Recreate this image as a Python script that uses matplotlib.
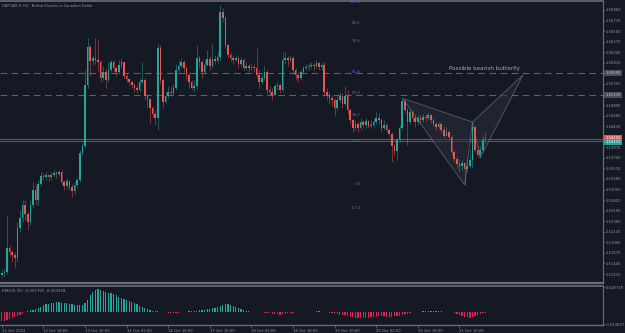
import numpy as np
import matplotlib
matplotlib.use("Agg")
import matplotlib.pyplot as plt
from matplotlib.patches import Rectangle, Polygon

BG = "#151924"
GRID_TXT = "#9598a1"
UP = "#26a69a"
DOWN = "#ef5350"

# ---- price data (H1 candles, open = previous close) ----
first_open = 1.5119
closes = [1.5123, 1.5125, 1.5178, 1.5169, 1.5162, 1.5156, 1.5221, 1.5243, 1.5271, 1.5252,
          1.5234, 1.5271, 1.5304, 1.5282, 1.5317, 1.5335, 1.5332, 1.5337, 1.5332, 1.5337,
          1.5341, 1.5339, 1.5343, 1.5321, 1.5313, 1.5324, 1.5311, 1.5302, 1.5315, 1.5326,
          1.5385, 1.5400, 1.5533, 1.5615, 1.5585, 1.5592, 1.5587, 1.5583, 1.5548, 1.5561,
          1.5544, 1.5565, 1.5583, 1.5570, 1.5561, 1.5576, 1.5583, 1.5552, 1.5546, 1.5539,
          1.5533, 1.5526, 1.5522, 1.5539, 1.5544, 1.5509, 1.5502, 1.5483, 1.5470, 1.5461,
          1.5613, 1.5544, 1.5496, 1.5509, 1.5517, 1.5515, 1.5526, 1.5565, 1.5574, 1.5583,
          1.5570, 1.5554, 1.5539, 1.5526, 1.5531, 1.5592, 1.5583, 1.5561, 1.5576, 1.5589,
          1.5574, 1.5589, 1.5585, 1.5594, 1.5692, 1.5679, 1.5620, 1.5598, 1.5592, 1.5587,
          1.5592, 1.5578, 1.5587, 1.5570, 1.5574, 1.5570, 1.5572, 1.5570, 1.5554, 1.5539,
          1.5548, 1.5561, 1.5522, 1.5517, 1.5511, 1.5531, 1.5533, 1.5522, 1.5587, 1.5592,
          1.5587, 1.5592, 1.5565, 1.5554, 1.5548, 1.5561, 1.5570, 1.5572, 1.5574, 1.5576,
          1.5574, 1.5581, 1.5572, 1.5576, 1.5517, 1.5511, 1.5504, 1.5500, 1.5483, 1.5500,
          1.5509, 1.5491, 1.5509, 1.5478, 1.5456, 1.5439, 1.5448, 1.5439, 1.5452, 1.5446,
          1.5454, 1.5443, 1.5446, 1.5452, 1.5461, 1.5456, 1.5439, 1.5446, 1.5435, 1.5426,
          1.5400, 1.5389, 1.5413, 1.5439, 1.5498, 1.5478, 1.5452, 1.5474, 1.5461, 1.5452,
          1.5461, 1.5456, 1.5463, 1.5461, 1.5467, 1.5456, 1.5448, 1.5441, 1.5448, 1.5435,
          1.5422, 1.5430, 1.5419, 1.5387, 1.5372, 1.5361, 1.5356, 1.5363, 1.5350, 1.5356,
          1.5369, 1.5441, 1.5391, 1.5380, 1.5391, 1.5413, 1.5415]
highs = [1.5130, 1.5134, 1.5250, 1.5184, 1.5173, 1.5169, 1.5234, 1.5261, 1.5282, 1.5282,
         1.5256, 1.5282, 1.5321, 1.5315, 1.5326, 1.5343, 1.5341, 1.5343, 1.5339, 1.5343,
         1.5348, 1.5345, 1.5348, 1.5348, 1.5326, 1.5330, 1.5326, 1.5317, 1.5321, 1.5330,
         1.5391, 1.5409, 1.5565, 1.5635, 1.5620, 1.5598, 1.5635, 1.5631, 1.5587, 1.5574,
         1.5570, 1.5583, 1.5587, 1.5587, 1.5574, 1.5587, 1.5592, 1.5583, 1.5557, 1.5548,
         1.5544, 1.5537, 1.5533, 1.5548, 1.5583, 1.5548, 1.5513, 1.5504, 1.5487, 1.5478,
         1.5622, 1.5620, 1.5548, 1.5517, 1.5531, 1.5531, 1.5535, 1.5578, 1.5587, 1.5592,
         1.5587, 1.5574, 1.5557, 1.5544, 1.5544, 1.5620, 1.5598, 1.5587, 1.5587, 1.5609,
         1.5596, 1.5622, 1.5598, 1.5605, 1.5707, 1.5700, 1.5683, 1.5622, 1.5605, 1.5598,
         1.5598, 1.5596, 1.5594, 1.5592, 1.5583, 1.5578, 1.5578, 1.5578, 1.5613, 1.5565,
         1.5557, 1.5574, 1.5565, 1.5531, 1.5526, 1.5535, 1.5539, 1.5535, 1.5605, 1.5605,
         1.5596, 1.5598, 1.5596, 1.5570, 1.5561, 1.5565, 1.5574, 1.5578, 1.5581, 1.5583,
         1.5581, 1.5587, 1.5583, 1.5583, 1.5583, 1.5526, 1.5517, 1.5511, 1.5504, 1.5509,
         1.5517, 1.5515, 1.5531, 1.5522, 1.5483, 1.5461, 1.5456, 1.5452, 1.5461, 1.5456,
         1.5461, 1.5456, 1.5456, 1.5461, 1.5474, 1.5472, 1.5461, 1.5456, 1.5450, 1.5439,
         1.5430, 1.5404, 1.5417, 1.5446, 1.5504, 1.5502, 1.5483, 1.5483, 1.5478, 1.5467,
         1.5467, 1.5467, 1.5470, 1.5470, 1.5474, 1.5470, 1.5461, 1.5452, 1.5452, 1.5452,
         1.5443, 1.5441, 1.5435, 1.5424, 1.5391, 1.5378, 1.5369, 1.5369, 1.5365, 1.5374,
         1.5391, 1.5452, 1.5443, 1.5402, 1.5400, 1.5422, 1.5430]
lows = [1.5114, 1.5117, 1.5121, 1.5160, 1.5147, 1.5134, 1.5147, 1.5213, 1.5234, 1.5239,
        1.5217, 1.5228, 1.5265, 1.5271, 1.5271, 1.5313, 1.5326, 1.5326, 1.5324, 1.5326,
        1.5332, 1.5330, 1.5335, 1.5315, 1.5304, 1.5306, 1.5304, 1.5289, 1.5295, 1.5308,
        1.5321, 1.5380, 1.5396, 1.5526, 1.5554, 1.5576, 1.5578, 1.5561, 1.5539, 1.5544,
        1.5526, 1.5539, 1.5561, 1.5561, 1.5552, 1.5557, 1.5570, 1.5548, 1.5539, 1.5533,
        1.5526, 1.5517, 1.5515, 1.5517, 1.5535, 1.5500, 1.5483, 1.5450, 1.5461, 1.5446,
        1.5435, 1.5535, 1.5483, 1.5491, 1.5504, 1.5509, 1.5511, 1.5522, 1.5561, 1.5570,
        1.5561, 1.5544, 1.5526, 1.5522, 1.5517, 1.5522, 1.5570, 1.5548, 1.5557, 1.5574,
        1.5565, 1.5570, 1.5578, 1.5581, 1.5587, 1.5670, 1.5613, 1.5592, 1.5583, 1.5578,
        1.5583, 1.5570, 1.5574, 1.5565, 1.5565, 1.5563, 1.5565, 1.5561, 1.5548, 1.5526,
        1.5535, 1.5544, 1.5513, 1.5509, 1.5500, 1.5509, 1.5522, 1.5515, 1.5517, 1.5578,
        1.5574, 1.5583, 1.5557, 1.5544, 1.5539, 1.5544, 1.5557, 1.5565, 1.5565, 1.5570,
        1.5565, 1.5570, 1.5565, 1.5565, 1.5509, 1.5500, 1.5491, 1.5487, 1.5465, 1.5478,
        1.5496, 1.5483, 1.5487, 1.5470, 1.5448, 1.5430, 1.5435, 1.5430, 1.5435, 1.5439,
        1.5439, 1.5439, 1.5439, 1.5441, 1.5448, 1.5448, 1.5430, 1.5435, 1.5430, 1.5419,
        1.5365, 1.5380, 1.5369, 1.5409, 1.5435, 1.5472, 1.5402, 1.5448, 1.5452, 1.5441,
        1.5446, 1.5450, 1.5452, 1.5454, 1.5456, 1.5450, 1.5443, 1.5435, 1.5439, 1.5428,
        1.5417, 1.5426, 1.5413, 1.5380, 1.5365, 1.5352, 1.5343, 1.5348, 1.5315, 1.5343,
        1.5352, 1.5352, 1.5387, 1.5376, 1.5374, 1.5387, 1.5406]

# ---- EWO(5,35) histogram ----
ewo = [-0.0105, -0.0113, -0.0098, -0.0090, -0.0078, -0.0066, -0.0051, -0.0035, -0.0020, -0.0008,
       0.0008, 0.0016, 0.0023, 0.0031, 0.0043, 0.0059, 0.0074, 0.0086, 0.0094, 0.0101,
       0.0105, 0.0109, 0.0109, 0.0105, 0.0101, 0.0098, 0.0094, 0.0090, 0.0082, 0.0074,
       0.0074, 0.0082, 0.0098, 0.0137, 0.0195, 0.0230, 0.0254, 0.0265, 0.0257, 0.0242,
       0.0230, 0.0222, 0.0215, 0.0203, 0.0191, 0.0176, 0.0164, 0.0152, 0.0137, 0.0125,
       0.0113, 0.0101, 0.0086, 0.0070, 0.0059, 0.0043, 0.0031, 0.0020, 0.0012, 0.0004,
       0.0003, 0.0002, -0.0004, -0.0008, -0.0012, -0.0016, -0.0020, -0.0016, -0.0012, -0.0008,
       -0.0004, 0.0002, 0.0004, 0.0008, 0.0008, 0.0012, 0.0016, 0.0020, 0.0023, 0.0027,
       0.0031, 0.0039, 0.0047, 0.0055, 0.0066, 0.0078, 0.0086, 0.0090, 0.0082, 0.0070,
       0.0059, 0.0043, 0.0027, 0.0016, 0.0008, 0.0004, 0.0002, 0.0001, -0.0004, -0.0004,
       -0.0008, -0.0012, -0.0016, -0.0020, -0.0023, -0.0027, -0.0031, -0.0035, -0.0031, -0.0027,
       -0.0020, -0.0016, -0.0012, -0.0008, -0.0008, -0.0008, -0.0004, -0.0004, -0.0004, -0.0002,
       0.0002, 0.0004, 0.0004, 0.0002, -0.0002, -0.0004, -0.0012, -0.0020, -0.0027, -0.0031,
       -0.0035, -0.0039, -0.0043, -0.0051, -0.0059, -0.0066, -0.0070, -0.0074, -0.0078, -0.0078,
       -0.0074, -0.0070, -0.0066, -0.0062, -0.0059, -0.0055, -0.0055, -0.0055, -0.0059, -0.0059,
       -0.0059, -0.0055, -0.0051, -0.0047, -0.0039, -0.0031, -0.0023, -0.0016, -0.0008, -0.0004,
       -0.0002, 0.0002, 0.0004, 0.0004, 0.0008, 0.0008, 0.0012, 0.0008, 0.0004, 0.0004,
       0.0002, -0.0002, -0.0004, -0.0008, -0.0016, -0.0023, -0.0035, -0.0047, -0.0059, -0.0066,
       -0.0070, -0.0066, -0.0055, -0.0043, -0.0031, -0.0020, -0.0012]

date_ticks = [0, 16, 32, 48, 64, 80, 96, 112, 128, 144, 160, 176]
date_labels = ["12 Oct 2022", "12 Oct 18:00", "13 Oct 10:00", "14 Oct 02:00", "14 Oct 18:00",
               "17 Oct 10:00", "18 Oct 02:00", "18 Oct 18:00", "19 Oct 10:00", "20 Oct 02:00",
               "20 Oct 18:00", "21 Oct 10:00"]
price_ticks = [1.51210, 1.51440, 1.51670, 1.51900, 1.52130, 1.52360, 1.52590, 1.52820, 1.53050,
               1.53280, 1.53510, 1.53740, 1.53970, 1.54200, 1.54430, 1.54660, 1.54890, 1.55350,
               1.55810, 1.56040, 1.56270, 1.56500, 1.56730, 1.56960]

# fibonacci retracement
fib_levels = [100.0, 88.6, 78.6, 61.8, 50.0, 38.2, 23.6, 0.0, -13.0]
fib_low, fib_high = 1.5317, 1.5713
fib_label_idx = 138

# horizontal lines
hlines_dashed = [1.5559, 1.5511]
bid, ask = 1.5415, 1.5411

# butterfly pattern points X, A, B, C, D
pat_idx = [154, 178, 181, 184, 200.5]
pat_price = [1.5504, 1.5315, 1.5452, 1.5374, 1.5555]
pattern_text = "Possible bearish butterfly"
text_pos = (185.5, 1.5568)

n = len(closes)
opens = [first_open] + closes[:-1]
idx = np.arange(n)

W, H = 625, 333
fig = plt.figure(figsize=(W / 100, H / 100), dpi=100, facecolor=BG)
ax = fig.add_axes([0, 1 - 283 / H, 603 / W, 282 / H], facecolor=BG)
ax2 = fig.add_axes([0, 1 - 325 / H, 603 / W, 39 / H], facecolor=BG)

# candles
for i in range(n):
    o, c = opens[i], closes[i]
    col = UP if c >= o else DOWN
    ax.vlines(i, lows[i], highs[i], color=col, lw=0.6, alpha=0.55, zorder=2)
    b = max(abs(c - o), 0.00005)
    ax.add_patch(Rectangle((i - 0.32, min(o, c)), 0.64, b, facecolor=col, edgecolor="none", zorder=3))

ax.set_xlim(-0.69, 231.2)
ax.set_ylim(1.51014, 1.57156)

for p in hlines_dashed:
    ax.axhline(p, color="#5d616c", lw=0.8, ls=(0, (6, 4)), zorder=1)
ax.axhline(bid, color="#963d45", lw=0.8, zorder=1)
ax.axhline(ask, color="#2b6b66", lw=0.8, zorder=1)

# fib labels
for lv in fib_levels:
    p = fib_low + (fib_high - fib_low) * lv / 100
    ax.text(fib_label_idx, p, f"{lv:.1f}", color="#5c5fb8", fontsize=2.9,
            ha="right", va="center", zorder=4)

# butterfly triangles
X, A, B, C, D = list(zip(pat_idx, pat_price))
for tri in ([X, A, B], [B, C, D]):
    ax.add_patch(Polygon(tri, closed=True, facecolor="#2a2e3a", alpha=0.55,
                         edgecolor="#7a7e88", lw=0.7, zorder=1.5))
ax.text(text_pos[0], text_pos[1], pattern_text, color="#a3a6ae", fontsize=4.1,
        ha="center", va="center", zorder=4)

ax.text(0.003, 0.988, "GBPCAD.ff, H1:  British Pounds vs Canadian Dollar", transform=ax.transAxes,
        color=GRID_TXT, fontsize=2.6, ha="left", va="top")

# right price axis
ax.yaxis.tick_right()
ax.set_yticks(price_ticks)
ax.set_yticklabels([f"{p:.5f}" for p in price_ticks])
ax.tick_params(axis="y", colors="#6a6d75", labelcolor=GRID_TXT, labelsize=2.7,
               length=1.5, width=0.5, pad=0.6)
ax.set_xticks([])
ax.spines["left"].set_visible(False)
for s in ["top", "right", "bottom"]:
    ax.spines[s].set_color("#6a6d75")
ax.spines["bottom"].set_linewidth(1.6)
ax.spines["top"].set_linewidth(1.2)

# price boxes on the axis
def price_box(a, p, txt, fc, tc):
    a.text(1.004, p, txt, transform=a.get_yaxis_transform(), fontsize=2.7, color=tc,
           ha="left", va="center", zorder=6, clip_on=False,
           bbox=dict(boxstyle="square,pad=0.3", fc=fc, ec="none"))

price_box(ax, hlines_dashed[0], f"{hlines_dashed[0]:.5f}", "#4a4e5a", "#c8cad0")
price_box(ax, hlines_dashed[1], f"{hlines_dashed[1]:.5f}", "#4a4e5a", "#c8cad0")
price_box(ax, bid + 0.0002, f"{bid:.5f}", DOWN, "#ffffff")
price_box(ax, ask - 0.0003, f"{ask:.5f}", UP, "#ffffff")

# EWO panel
cols = [UP if v >= 0 else "#e0234e" for v in ewo]
ax2.bar(idx, ewo, width=0.5, color=cols, zorder=2)
ax2.set_xlim(-0.69, 231.2)
ax2.set_ylim(-0.0156, 0.0301)
ax2.yaxis.tick_right()
ax2.set_yticks([0.028718, -0.014647])
ax2.set_yticklabels(["0.028718", "-0.014647"])
ax2.tick_params(axis="y", colors="#6a6d75", labelcolor=GRID_TXT, labelsize=2.7,
                length=1.5, width=0.5, pad=0.6)
ax2.set_xticks(date_ticks)
ax2.set_xticklabels(date_labels, ha="left")
ax2.tick_params(axis="x", colors="#6a6d75", labelcolor=GRID_TXT, labelsize=2.7,
                length=2, width=0.5, pad=0.8)
ax2.spines["left"].set_visible(False)
for s in ["top", "right", "bottom"]:
    ax2.spines[s].set_color("#6a6d75")
ax2.spines["top"].set_linewidth(1.2)
ax2.spines["bottom"].set_linewidth(1.0)
ax2.text(0.003, 0.93, "EWO(5,35) -0.001765 -0.003258", transform=ax2.transAxes,
         color=GRID_TXT, fontsize=2.8, ha="left", va="top")

fig.savefig("out.png", dpi=100, facecolor=BG)
